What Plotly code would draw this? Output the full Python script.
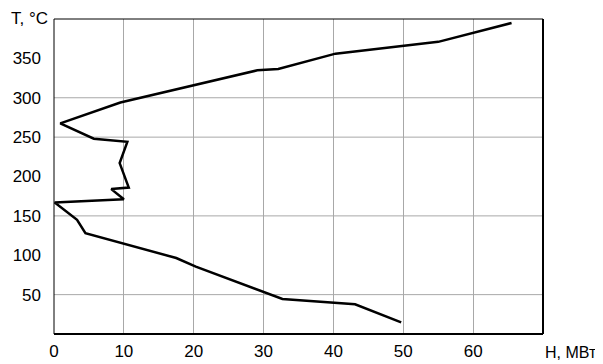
import plotly.graph_objects as go

# Data
H_MW = [65.5, 55.0, 40.3, 32.1, 29.1, 9.5, 0.9, 5.7, 10.5, 9.4, 10.7, 8.2, 10.0, 0.1,
        3.3, 4.5, 17.5, 20.3, 32.7, 43.1, 49.7]
T_C = [395, 371, 356, 336.5, 334.8, 294, 267.5, 248, 244, 217, 186, 184, 171, 167,
       145, 128, 96.5, 85.5, 44.4, 37.7, 14.8]

X_TICKS = [0, 10, 20, 30, 40, 50, 60]
Y_TICKS = [50, 100, 150, 200, 250, 300, 350]
Y_GRID = [50, 150, 250, 300]
X_RANGE = [0, 70]
Y_RANGE = [0, 400]

FONT = "Liberation Sans, Arial, sans-serif"
FS = 17

# page body has an 8px margin; size the figure to fit the 603x364 window
W, H = 595, 356
ML, MT = 46, 11
MR, MB = 60, 30
PW = W - ML - MR
PH = H - MT - MB

fig = go.Figure()
fig.add_trace(go.Scatter(x=H_MW, y=T_C, mode="lines",
                         line=dict(color="black", width=2.5), hoverinfo="skip"))

shapes = []
for yv in Y_GRID:
    shapes.append(dict(type="line", xref="paper", yref="y", x0=0, x1=1, y0=yv, y1=yv,
                       line=dict(color="#a8a8a8", width=1), layer="below"))
# frame
shapes.append(dict(type="line", xref="paper", yref="paper", x0=0, x1=0, y0=0, y1=1,
                   line=dict(color="black", width=1)))
shapes.append(dict(type="line", xref="paper", yref="paper", x0=0, x1=1, y0=1, y1=1,
                   line=dict(color="black", width=1)))
shapes.append(dict(type="line", xref="paper", yref="paper", x0=1, x1=1, y0=0, y1=1,
                   line=dict(color="black", width=2)))
shapes.append(dict(type="line", xref="paper", yref="paper", x0=0, x1=1, y0=0, y1=0,
                   line=dict(color="black", width=2)))

fig.update_layout(
    width=W, height=H,
    margin=dict(l=ML, r=MR, t=MT, b=MB, autoexpand=False),
    paper_bgcolor="white", plot_bgcolor="white",
    showlegend=False,
    font=dict(family=FONT, size=FS, color="black"),
    shapes=shapes,
    xaxis=dict(range=X_RANGE, tickvals=X_TICKS, ticktext=[str(v) for v in X_TICKS],
               showgrid=True, gridcolor="#a8a8a8", gridwidth=1, zeroline=False,
               showline=False, ticks="", ticklabelstandoff=5, automargin=False,
               tickfont=dict(family=FONT, size=FS, color="black")),
    yaxis=dict(range=Y_RANGE, tickvals=Y_TICKS, ticktext=[str(v) for v in Y_TICKS],
               showgrid=False, zeroline=False, showline=False, ticks="",
               ticklabelstandoff=12, automargin=False,
               tickfont=dict(family=FONT, size=FS, color="black")),
    annotations=[
        dict(text="T, °C", xref="paper", yref="paper", x=-(ML - 1) / PW, y=1 + 1 / PH,
             xanchor="left", yanchor="middle", showarrow=False,
             font=dict(family=FONT, size=FS, color="black")),
        dict(text="H, МВт", xref="paper", yref="paper", x=1, y=-18 / PH,
             xanchor="left", yanchor="middle", showarrow=False,
             font=dict(family=FONT, size=16, color="black")),
    ],
)

fig.write_html("out.html")
